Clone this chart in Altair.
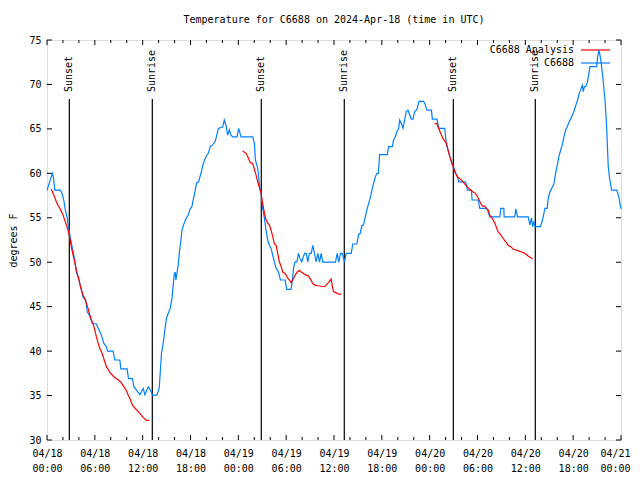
import altair as alt
import pandas as pd

FONT = "DejaVu Sans Mono"
BASE = pd.Timestamp("2024-04-18 00:00:00")

# ---- observations (C6688), hours since 2024-04-18 00:00 UTC ----
obs_hours = [
    0.00, 0.67, 0.82, 0.97, 1.67, 1.88, 2.10, 2.30, 2.51, 2.76,
    2.98, 3.27, 3.48, 3.68, 4.02, 4.31, 4.52, 4.86, 5.06, 5.37,
    5.69, 6.20, 6.41, 6.82, 7.12, 7.45, 7.58, 8.29, 8.51, 9.14,
    9.26, 10.05, 10.22, 10.72, 10.90, 11.22, 11.65, 12.06, 12.28, 12.69,
    12.98, 13.23, 13.78, 14.07, 14.20, 14.36, 14.58, 14.79, 14.99, 15.21,
    15.46, 15.67, 15.83, 15.96, 16.08, 16.17, 16.30, 16.46, 16.59, 16.80,
    16.93, 17.13, 17.43, 17.72, 17.93, 18.18, 18.38, 18.56, 18.76, 19.01,
    19.31, 19.60, 19.94, 20.23, 20.48, 20.77, 21.11, 21.32, 21.49, 22.03,
    22.24, 22.46, 22.66, 22.87, 23.08, 23.29, 23.84, 24.04, 24.34, 25.80,
    26.01, 26.14, 26.43, 26.64, 26.85, 27.05, 27.26, 27.47, 27.68, 27.89,
    28.11, 28.31, 28.52, 28.74, 29.03, 29.28, 29.87, 30.07, 30.62, 30.75,
    30.95, 31.13, 31.35, 31.54, 31.75, 31.96, 32.30, 32.51, 32.71, 32.92,
    33.14, 33.34, 33.55, 33.76, 33.97, 34.18, 34.39, 34.59, 36.19, 36.40,
    36.60, 36.82, 37.03, 37.32, 37.53, 38.16, 38.36, 38.87, 39.08, 39.29,
    39.49, 39.71, 39.92, 40.12, 40.34, 40.55, 40.75, 40.97, 41.18, 41.38,
    41.56, 41.72, 42.69, 42.85, 43.31, 43.48, 43.69, 43.89, 44.11, 44.23,
    44.45, 44.65, 44.86, 45.07, 45.28, 45.49, 45.70, 45.90, 46.12, 46.41,
    46.66, 47.25, 47.46, 47.66, 48.22, 48.34, 48.92, 49.13, 49.89, 50.10,
    50.31, 50.52, 50.81, 51.06, 51.27, 51.49, 51.65, 52.49, 52.61, 52.74,
    53.24, 53.32, 54.07, 54.29, 55.13, 55.33, 55.54, 56.80, 56.92, 57.30,
    57.34, 58.68, 58.81, 59.02, 60.36, 60.57, 60.78, 60.91, 61.07, 61.20,
    61.89, 62.16, 62.33, 62.45, 62.74, 62.87, 63.08, 63.30, 63.58, 63.80,
    64.00, 64.21, 64.43, 64.63, 64.84, 65.06, 65.26, 65.51, 65.72, 65.93,
    66.14, 66.35, 66.56, 66.76, 66.98, 67.14, 67.27, 67.39, 67.57, 67.77,
    67.98, 68.11, 68.95, 69.07, 69.24, 69.36, 69.49, 69.70, 69.99, 70.20,
    70.40, 70.60, 70.83, 71.46, 71.66, 71.88, 72.00,
]
obs_temps = [
    58.1, 60.0, 59.5, 58.1, 58.1, 57.75, 57.0, 55.9, 55.1, 53.6,
    52.5, 51.2, 50.25, 48.9, 48.0, 46.9, 46.1, 45.75, 44.4, 43.95,
    43.1, 43.05, 42.6, 41.8, 40.9, 40.5, 40.0, 40.0, 39.0, 39.0,
    38.0, 38.0, 36.9, 36.9, 36.0, 35.6, 35.1, 35.8, 35.1, 36.0,
    35.6, 35.05, 35.05, 35.8, 37.5, 39.75, 40.9, 42.4, 43.7, 44.25,
    44.8, 45.9, 47.4, 48.6, 48.9, 48.0, 48.75, 49.7, 51.0, 52.5,
    53.6, 54.2, 54.9, 55.3, 55.95, 56.25, 57.2, 57.9, 58.9, 59.05,
    60.0, 61.1, 61.9, 62.25, 63.0, 63.2, 63.6, 64.4, 65.05, 65.2,
    66.0, 65.4, 64.3, 64.9, 64.3, 64.1, 64.1, 65.05, 64.1, 64.1,
    63.4, 61.5, 60.6, 58.8, 57.7, 56.1, 55.0, 53.6, 52.5, 51.9,
    51.55, 50.8, 50.05, 49.3, 48.9, 48.0, 48.0, 46.95, 46.95, 47.8,
    49.5, 50.05, 50.05, 51.0, 50.4, 50.05, 51.0, 51.0, 50.05, 51.0,
    51.0, 51.9, 51.0, 50.05, 51.0, 50.0, 51.0, 50.0, 50.0, 51.0,
    50.0, 51.0, 51.0, 50.05, 51.0, 51.0, 52.05, 52.05, 53.1, 53.25,
    54.1, 54.2, 55.1, 55.9, 56.6, 57.2, 58.1, 58.9, 59.6, 60.0,
    60.0, 62.1, 62.1, 63.0, 63.0, 63.75, 64.1, 64.7, 65.05, 66.0,
    65.6, 65.05, 66.0, 66.95, 67.1, 66.6, 66.1, 66.1, 66.95, 67.2,
    68.1, 68.1, 67.7, 67.1, 67.1, 66.1, 66.1, 65.05, 65.05, 63.2,
    62.6, 61.9, 61.1, 60.6, 60.0, 59.6, 59.05, 59.05, 58.7, 58.1,
    58.1, 57.0, 57.0, 56.06, 56.06, 55.7, 55.1, 55.1, 56.06, 56.06,
    55.1, 55.1, 56.0, 55.1, 55.1, 54.2, 55.0, 54.0, 54.6, 54.0,
    54.0, 54.75, 55.5, 56.06, 56.06, 57.2, 57.9, 58.3, 58.8, 60.0,
    60.9, 61.9, 62.6, 63.2, 64.1, 64.9, 65.25, 65.8, 66.2, 66.6,
    67.1, 67.7, 68.25, 69.0, 69.5, 69.9, 69.2, 69.75, 69.75, 70.2,
    71.25, 72.0, 72.0, 73.1, 73.9, 73.3, 72.6, 71.0, 68.25, 65.25,
    60.75, 59.25, 58.1, 58.1, 57.6, 56.6, 56.0,
]

# ---- analysis (C6688 Analysis), three separate runs ----
ana1_hours = [0.54, 0.75, 0.97, 1.17, 1.38, 1.60, 1.80, 2.01, 2.22, 2.43,
              2.64, 2.85, 3.05, 3.27, 3.48, 3.68, 3.90, 4.11, 4.31, 4.52,
              4.74, 4.94, 5.15, 5.37, 5.57, 5.78, 5.99, 6.20, 6.41, 6.62,
              6.82, 7.04, 7.25, 7.45, 7.67, 7.88, 8.29, 8.71, 9.05, 9.34,
              9.64, 9.96, 10.18, 10.39, 10.59, 10.81, 11.22, 11.65, 12.06, 12.48,
              12.82]
ana1_temps = [58.2, 57.75, 57.3, 56.8, 56.4, 56.1, 55.7, 55.3, 54.75, 54.2,
              53.6, 52.8, 51.75, 50.8, 50.05, 49.1, 48.4, 47.6, 46.9, 46.3,
              45.9, 45.4, 44.8, 44.06, 43.5, 43.1, 42.4, 41.6, 40.9, 40.3,
              39.95, 39.4, 38.8, 38.25, 37.95, 37.6, 37.2, 36.9, 36.7, 36.4,
              36.0, 35.55, 35.06, 34.7, 34.2, 33.8, 33.4, 33.0, 32.55, 32.2,
              32.2]
ana2_hours = [24.54, 24.97, 25.17, 25.51, 25.80, 26.01, 26.23, 26.43, 26.64, 26.85,
              27.05, 27.26, 27.47, 27.68, 27.89, 28.11, 28.31, 28.52, 28.74, 28.94,
              29.15, 29.37, 29.57, 29.78, 29.99, 30.20, 30.41, 30.62, 30.95, 31.13,
              31.38, 31.67, 31.88, 32.21, 32.51, 32.80, 33.05, 33.34, 33.64, 33.97,
              34.39, 34.81, 35.31, 35.65, 35.77, 35.94, 36.28, 36.57, 36.91]
ana2_temps = [62.5, 62.25, 61.9, 61.2, 61.1, 60.45, 59.8, 59.05, 58.4, 57.8,
              56.6, 55.6, 54.8, 54.4, 54.2, 53.6, 52.9, 52.05, 51.9, 51.0,
              50.05, 49.5, 48.9, 48.8, 48.55, 48.2, 48.0, 47.7, 48.2, 48.55,
              48.9, 49.1, 48.9, 48.7, 48.55, 48.45, 48.1, 47.6, 47.4, 47.35,
              47.3, 47.25, 47.7, 48.1, 47.4, 46.7, 46.55, 46.4, 46.4]
ana3_hours = [48.63, 48.92, 49.13, 49.38, 49.67, 50.10, 50.31, 50.52, 50.73, 50.93,
              51.14, 51.36, 51.56, 51.90, 52.19, 52.49, 52.82, 53.16, 53.44, 53.74,
              53.99, 54.20, 54.41, 54.62, 54.91, 55.13, 55.33, 55.54, 55.76, 55.96,
              56.17, 56.38, 56.59, 56.80, 57.01, 57.21, 57.43, 57.64, 57.84, 58.05,
              58.27, 58.47, 58.68, 59.09, 59.52, 59.94, 60.36, 60.70, 60.91]
ana3_temps = [65.6, 65.6, 65.05, 64.5, 63.9, 63.4, 62.6, 61.9, 61.3, 60.75,
              60.2, 59.8, 59.55, 59.3, 59.05, 58.7, 58.4, 58.1, 57.9, 57.75,
              57.4, 57.0, 56.6, 56.3, 56.3, 56.06, 55.9, 55.3, 55.05, 54.75,
              54.4, 53.9, 53.4, 53.25, 52.95, 52.7, 52.4, 52.2, 51.9, 51.8,
              51.7, 51.45, 51.4, 51.3, 51.15, 51.0, 50.7, 50.5, 50.4]

sunset_hours = [2.80, 26.88, 50.97]
sunrise_hours = [13.21, 37.29, 61.25]

y_ticks = [30, 35, 40, 45, 50, 55, 60, 65, 70, 75]
major_tick_hours = list(range(0, 73, 6))
minor_tick_hours = [h for h in range(0, 73, 2) if h % 6 != 0]

assert len(obs_hours) == len(obs_temps)
assert len(ana1_hours) == len(ana1_temps)
assert len(ana2_hours) == len(ana2_temps)
assert len(ana3_hours) == len(ana3_temps)


def iso(h):
    return (BASE + pd.Timedelta(hours=h)).strftime("%Y-%m-%dT%H:%M:%SZ")


def ms(h):
    return int((BASE + pd.Timedelta(hours=h)).value // 10**6)


obs_df = pd.DataFrame({"t": [iso(h) for h in obs_hours], "temp": obs_temps})
ana_df = pd.concat([
    pd.DataFrame({"t": [iso(h) for h in hs], "temp": ts, "seg": k})
    for k, (hs, ts) in enumerate([(ana1_hours, ana1_temps),
                                  (ana2_hours, ana2_temps),
                                  (ana3_hours, ana3_temps)])
], ignore_index=True)
events_df = pd.DataFrame({
    "t": [iso(h) for h in sunset_hours] + [iso(h) for h in sunrise_hours],
    "label": ["Sunset"] * len(sunset_hours) + ["Sunrise"] * len(sunrise_hours),
})
major_df = pd.DataFrame({"t": [iso(h) for h in major_tick_hours]})
minor_df = pd.DataFrame({"t": [iso(h) for h in minor_tick_hours]})
yt_df = pd.DataFrame({"temp": y_ticks})

W, H = 574, 400
LAST = ms(72)

xscale = alt.Scale(type="utc", domain=[ms(0), ms(72)], nice=False)
yscale = alt.Scale(domain=[30, 75], nice=False, zero=False)

xaxis = alt.Axis(
    values=[ms(h) for h in major_tick_hours],
    labelExpr="[utcFormat(datum.value, '%m/%d'), utcFormat(datum.value, '%H:%M')]",
    ticks=False, tickSize=0, domain=False, grid=False,
    labelFlush=False, labelOverlap=False, labelBound=False,
    labelPadding=8, labelLineHeight=15,
    labelOffset={"condition": {"test": f"datum.value >= {LAST}", "value": -6}, "value": 0},
    labelFont=FONT, labelFontSize=10, labelColor="black", title=None,
)
yaxis = alt.Axis(
    values=y_ticks, ticks=False, tickSize=0, domain=False, grid=False,
    labelPadding=6, labelFont=FONT, labelFontSize=10, labelColor="black",
    title="degrees F", titleFont=FONT, titleFontSize=10, titleFontWeight="normal",
    titleColor="black", titleX=-34, titleY=H / 2, titleAngle=270,
    titleAlign="center", titleBaseline="middle",
)

X = alt.X("t:T", scale=xscale, axis=xaxis)
Y = alt.Y("temp:Q", scale=yscale, axis=yaxis)

event_lines = alt.Chart(events_df).mark_rule(color="black", strokeWidth=1.2).encode(
    x=X, y=alt.value(H), y2=alt.value(59)
)
event_text = alt.Chart(events_df).mark_text(
    angle=270, align="left", baseline="middle", font=FONT, fontSize=10, color="black"
).encode(x=X, y=alt.value(52), text="label:N")

obs_line = alt.Chart(obs_df).mark_line(color="#0080ff", strokeWidth=1.2).encode(x=X, y=Y)
ana_line = alt.Chart(ana_df).mark_line(color="#ff0000", strokeWidth=1.2).encode(
    x=X, y=Y, detail="seg:N"
)

tick_style = dict(color="black", strokeWidth=1)
bot_major = alt.Chart(major_df).mark_rule(**tick_style).encode(x=X, y=alt.value(H), y2=alt.value(H - 5))
top_major = alt.Chart(major_df).mark_rule(**tick_style).encode(x=X, y=alt.value(0), y2=alt.value(5))
bot_minor = alt.Chart(minor_df).mark_rule(**tick_style).encode(x=X, y=alt.value(H), y2=alt.value(H - 3))
top_minor = alt.Chart(minor_df).mark_rule(**tick_style).encode(x=X, y=alt.value(0), y2=alt.value(3))
left_ticks = alt.Chart(yt_df).mark_rule(**tick_style).encode(y=Y, x=alt.value(0), x2=alt.value(5))
right_ticks = alt.Chart(yt_df).mark_rule(**tick_style).encode(y=Y, x=alt.value(W), x2=alt.value(W - 5))

leg1_df = pd.DataFrame({"label": ["C6688 Analysis"]})
leg2_df = pd.DataFrame({"label": ["C6688"]})
leg1_text = alt.Chart(leg1_df).mark_text(align="right", baseline="middle", font=FONT, fontSize=10, color="black").encode(
    x=alt.value(527), y=alt.value(10), text="label:N")
leg2_text = alt.Chart(leg2_df).mark_text(align="right", baseline="middle", font=FONT, fontSize=10, color="black").encode(
    x=alt.value(527), y=alt.value(23), text="label:N")
leg1_line = alt.Chart(leg1_df).mark_rule(color="#ff0000", strokeWidth=1.2).encode(
    x=alt.value(534), x2=alt.value(563), y=alt.value(10))
leg2_line = alt.Chart(leg2_df).mark_rule(color="#0080ff", strokeWidth=1.2).encode(
    x=alt.value(534), x2=alt.value(563), y=alt.value(23))

chart = alt.layer(
    event_lines, event_text, bot_major, top_major, bot_minor, top_minor,
    left_ticks, right_ticks, leg1_text, leg2_text, leg1_line, leg2_line,
    obs_line, ana_line,
).properties(
    width=W, height=H,
    autosize=alt.AutoSizeParams(type="none"),
    padding={"left": 39, "top": 32, "right": 11, "bottom": 38},
    title=alt.TitleParams(
        "Temperature for C6688 on 2024-Apr-18 (time in UTC)",
        font=FONT, fontSize=10, fontWeight="normal", color="black",
        offset=10, anchor="middle",
    ),
).configure_view(stroke="black", strokeWidth=1).configure(background="white")

chart.save("out.html", embed_options={"renderer": "svg", "actions": False})
